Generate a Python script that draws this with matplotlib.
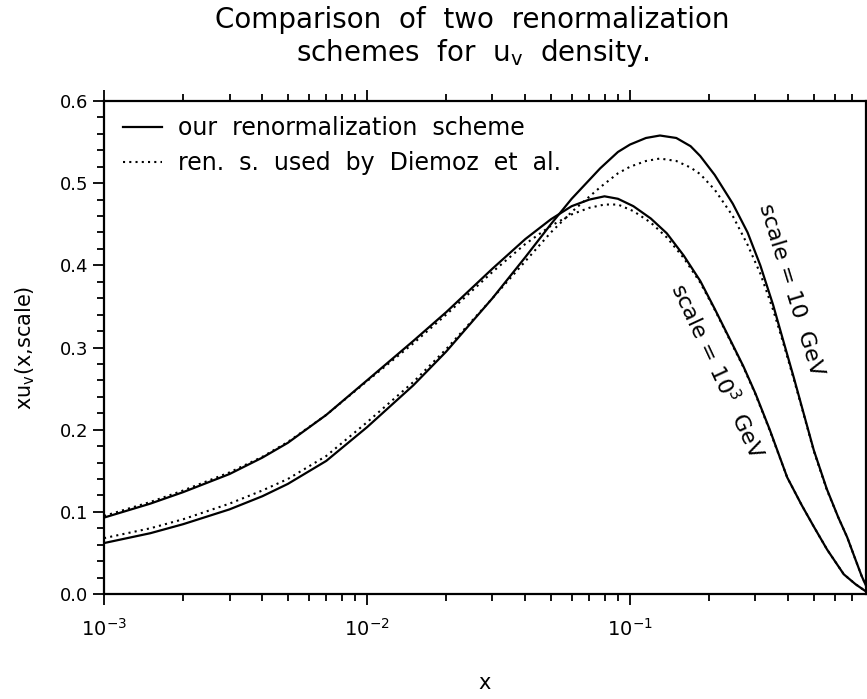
import numpy as np
import matplotlib
matplotlib.use('agg')
import matplotlib.pyplot as plt
from matplotlib.ticker import MultipleLocator, LogLocator, NullFormatter, FormatStrFormatter


# scale = 10 GeV, our scheme (solid) and Diemoz et al. (dotted)
x_s10 = [0.001, 0.0015, 0.002, 0.003, 0.004, 0.005, 0.007, 0.01, 0.015, 0.02, 0.03, 0.04, 0.05, 0.06,
         0.077, 0.09, 0.10, 0.115, 0.13, 0.15, 0.17, 0.185, 0.21, 0.246, 0.28, 0.313, 0.35, 0.379,
         0.42, 0.46, 0.50, 0.56, 0.62, 0.67, 0.72, 0.76, 0.79]
our_s10 = [0.062, 0.074, 0.085, 0.103, 0.119, 0.134, 0.162, 0.203, 0.254, 0.295, 0.360, 0.410, 0.450, 0.481,
           0.518, 0.538, 0.547, 0.555, 0.558, 0.555, 0.545, 0.533, 0.510, 0.475, 0.440, 0.400, 0.352, 0.313,
           0.263, 0.217, 0.175, 0.128, 0.093, 0.069, 0.042, 0.022, 0.010]
diem_s10 = [0.068, 0.080, 0.091, 0.110, 0.126, 0.140, 0.168, 0.209, 0.258, 0.298, 0.360, 0.405, 0.440, 0.465,
            0.495, 0.512, 0.520, 0.527, 0.530, 0.527, 0.519, 0.511, 0.492, 0.460, 0.425, 0.390, 0.346, 0.310,
            0.261, 0.216, 0.174, 0.127, 0.093, 0.069, 0.042, 0.022, 0.010]

# scale = 10^3 GeV
x_s1000 = [0.001, 0.0015, 0.002, 0.003, 0.004, 0.005, 0.007, 0.01, 0.015, 0.02, 0.03, 0.04, 0.05, 0.06,
           0.07, 0.08, 0.09, 0.103, 0.12, 0.138, 0.16, 0.185, 0.21, 0.246, 0.27, 0.30, 0.34, 0.396,
           0.45, 0.50, 0.562, 0.65, 0.72, 0.79]
our_s1000 = [0.093, 0.110, 0.124, 0.146, 0.166, 0.184, 0.218, 0.260, 0.308, 0.343, 0.396, 0.432, 0.456, 0.472,
             0.480, 0.484, 0.481, 0.472, 0.457, 0.439, 0.412, 0.381, 0.347, 0.303, 0.277, 0.244, 0.200, 0.142,
             0.108, 0.082, 0.054, 0.024, 0.012, 0.003]
diem_s1000 = [0.095, 0.112, 0.126, 0.148, 0.167, 0.185, 0.218, 0.259, 0.305, 0.340, 0.392, 0.426, 0.448, 0.462,
              0.470, 0.474, 0.474, 0.466, 0.452, 0.434, 0.409, 0.379, 0.346, 0.302, 0.276, 0.243, 0.199, 0.142,
              0.108, 0.082, 0.054, 0.024, 0.012, 0.003]

legend_labels = ['our  renormalization  scheme', 'ren.  s.  used  by  Diemoz  et  al.']

plt.rcParams['font.family'] = 'DejaVu Sans'

fig = plt.figure(figsize=(8.67, 6.99), dpi=100)
ax = fig.add_axes([0.120, 0.1502, 0.8789, 0.7053])

dot = (0, (1, 2))
ax.plot(x_s10, our_s10, color='black', lw=1.6, label=legend_labels[0])
ax.plot(x_s10, diem_s10, color='black', lw=1.5, ls=dot, label=legend_labels[1])
ax.plot(x_s1000, our_s1000, color='black', lw=1.6)
ax.plot(x_s1000, diem_s1000, color='black', lw=1.5, ls=dot)

ax.set_xscale('log')
ax.set_xlim(1e-3, 0.79)
ax.set_ylim(0, 0.6)
ax.yaxis.set_major_locator(MultipleLocator(0.1))
ax.yaxis.set_minor_locator(MultipleLocator(0.02))
ax.yaxis.set_major_formatter(FormatStrFormatter('%.1f'))
ax.xaxis.set_minor_locator(LogLocator(base=10, subs=np.arange(2, 10)))
ax.xaxis.set_minor_formatter(NullFormatter())

ax.tick_params(which='both', direction='out', top=True, right=False, labelsize=13, width=1.3)
ax.tick_params(which='major', length=8)
ax.tick_params(which='minor', length=5)
ax.tick_params(axis='x', which='major', pad=9, labelsize=14)
for sp in ax.spines.values():
    sp.set_linewidth(1.6)

ax.set_xlabel('x', fontsize=15, labelpad=24)
ax.set_ylabel(r'xu$_\mathregular{v}$(x,scale)', fontsize=15, labelpad=16)

ax.text(0.41, 0.37, 'scale = 10  GeV', rotation=-73, fontsize=16,
        ha='center', va='center', rotation_mode='anchor')
ax.text(0.215, 0.272, r'scale = 10$^\mathregular{3}$  GeV', rotation=-65, fontsize=16,
        ha='center', va='center', rotation_mode='anchor')

ax.legend(loc='upper left', frameon=False, fontsize=17, handlelength=1.65, handletextpad=0.65,
          labelspacing=0.45, borderaxespad=0.25, bbox_to_anchor=(0.005, 1.0))

fig.text(0.545, 0.971, 'Comparison  of  two  renormalization', ha='center', va='center', fontsize=20)
fig.text(0.545, 0.924, r'schemes  for  u$_\mathregular{v}$  density.', ha='center', va='center', fontsize=20)

plt.savefig('out.png', dpi=100, facecolor='white')
